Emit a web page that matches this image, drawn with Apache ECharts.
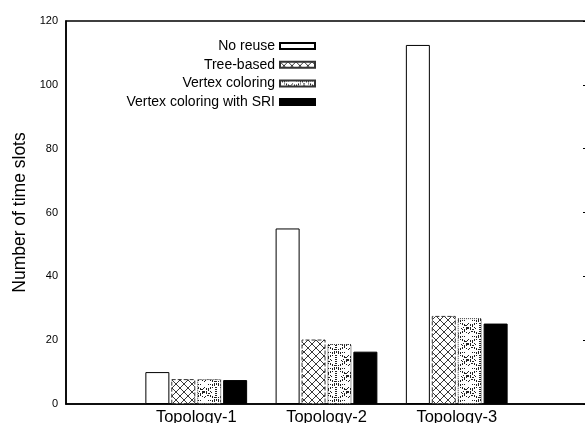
<!DOCTYPE html>
<html><head><meta charset="utf-8">
<script src="https://cdn.jsdelivr.net/npm/echarts@6/dist/echarts.min.js"></script>
<style>html,body{margin:0;padding:0;background:#fff;overflow:hidden}#c{width:585px;height:423px}</style>
</head><body><div id="c"></div>
<script>
var categories = ['Topology-1', 'Topology-2', 'Topology-3'];
var seriesNames = ['No reuse', 'Tree-based', 'Vertex coloring', 'Vertex coloring with SRI'];
var noReuse = [10, 55, 112.5];
var treeBased = [7.8, 20.2, 27.6];
var vertexColoring = [7.8, 18.8, 26.9];
var vertexColoringSRI = [7.5, 16.4, 25.2];
var yTicks = [0, 20, 40, 60, 80, 100, 120];

function makeTree() {
  var c = document.createElement('canvas'); c.width = 8; c.height = 8;
  var g = c.getContext('2d');
  g.fillStyle = '#fff'; g.fillRect(0, 0, 8, 8);
  g.strokeStyle = '#3a3a3a'; g.lineWidth = 1;
  g.beginPath(); g.moveTo(0, 0); g.lineTo(8, 8); g.moveTo(8, 0); g.lineTo(0, 8); g.stroke();
  return c;
}
function dotted(g, x0, y0, x1, y1) {
  var dx = x1 - x0, dy = y1 - y0, n = Math.max(Math.abs(dx), Math.abs(dy));
  for (var i = 0; i <= n; i += 2) {
    g.fillRect(Math.round(x0 + dx * i / n), Math.round(y0 + dy * i / n), 1, 1);
  }
}
function makeVertex() {
  var W = 24, H = 16;
  var c = document.createElement('canvas'); c.width = W; c.height = H;
  var g = c.getContext('2d');
  g.fillStyle = '#fff'; g.fillRect(0, 0, W, H);
  g.fillStyle = '#222';
  dotted(g, 0, 0, W, H); dotted(g, W, 0, 0, H);
  dotted(g, 2, 0, W, H - 1.5); dotted(g, W - 2, 0, 0, H - 1.5);
  dotted(g, 12, 3, 19, 8); dotted(g, 19, 8, 12, 13); dotted(g, 12, 13, 5, 8); dotted(g, 5, 8, 12, 3);
  g.fillRect(11, 7, 2, 2);
  dotted(g, 0, 3, 0, 13); dotted(g, 23, 3, 23, 13);
  dotted(g, 4, 0, 8, 0); dotted(g, 16, 0, 20, 0);
  return c;
}
var treePat = { image: makeTree(), repeat: 'repeat' };
var vertexPat = { image: makeVertex(), repeat: 'repeat' };

var axisCats = [''].concat(categories).concat(['']);
function pad(arr) { return [null].concat(arr).concat([null]); }

var styles = [
  { color: '#fff', borderColor: '#000', borderWidth: 1 },
  { color: treePat, borderColor: '#333', borderWidth: 1, borderType: 'dashed' },
  { color: vertexPat, borderColor: '#333', borderWidth: 1, borderType: 'dotted' },
  { color: '#000', borderColor: '#000', borderWidth: 1 }
];
var datas = [noReuse, treeBased, vertexColoring, vertexColoringSRI];

var series = seriesNames.map(function (n, i) {
  return {
    name: n, type: 'bar', data: pad(datas[i]),
    barWidth: 24, barGap: '8%',
    itemStyle: styles[i],
    emphasis: { disabled: true }
  };
});

var chart = echarts.init(document.getElementById('c'), null, { renderer: 'canvas' });
chart.setOption({
  animation: false,
  backgroundColor: '#fff',
  textStyle: { fontFamily: 'Liberation Sans, Arial, sans-serif' },
  grid: { left: 66, width: 521, top: 21, bottom: 19, show: true, borderColor: '#000', borderWidth: 1.5, backgroundColor: 'transparent', outerBoundsMode: 'none', containLabel: false },
  legend: {
    orient: 'vertical', right: 264, top: 34, align: 'right', icon: 'rect',
    itemWidth: 35, itemHeight: 6, itemGap: 4.7,
    data: seriesNames,
    textStyle: { fontSize: 14, color: '#000', lineHeight: 14, fontFamily: 'Liberation Sans, Arial, sans-serif' },
    selectedMode: false
  },
  xAxis: {
    type: 'category', data: axisCats, boundaryGap: false,
    axisLine: { show: true, lineStyle: { color: '#000', width: 1.5 } },
    axisTick: { show: false },
    axisLabel: { color: '#000', fontSize: 16.5, margin: 5, interval: 0 },
    splitLine: { show: false }
  },
  yAxis: [{
    type: 'value', min: yTicks[0], max: yTicks[yTicks.length - 1], interval: 20,
    name: 'Number of time slots', nameLocation: 'middle', nameGap: 37,
    nameTextStyle: { fontSize: 17.5, color: '#000' },
    axisLine: { show: true, lineStyle: { color: '#000', width: 1.5 } },
    axisTick: { show: false },
    axisLabel: { color: '#000', fontSize: 11, margin: 8 },
    splitLine: { show: false }
  }, {
    type: 'value', position: 'right', min: yTicks[0], max: yTicks[yTicks.length - 1], interval: 20,
    axisLine: { show: false },
    axisTick: { show: true, inside: true, length: 4, lineStyle: { color: '#000', width: 1 } },
    axisLabel: { show: false },
    splitLine: { show: false }
  }],
  series: series
});
</script></body></html>
